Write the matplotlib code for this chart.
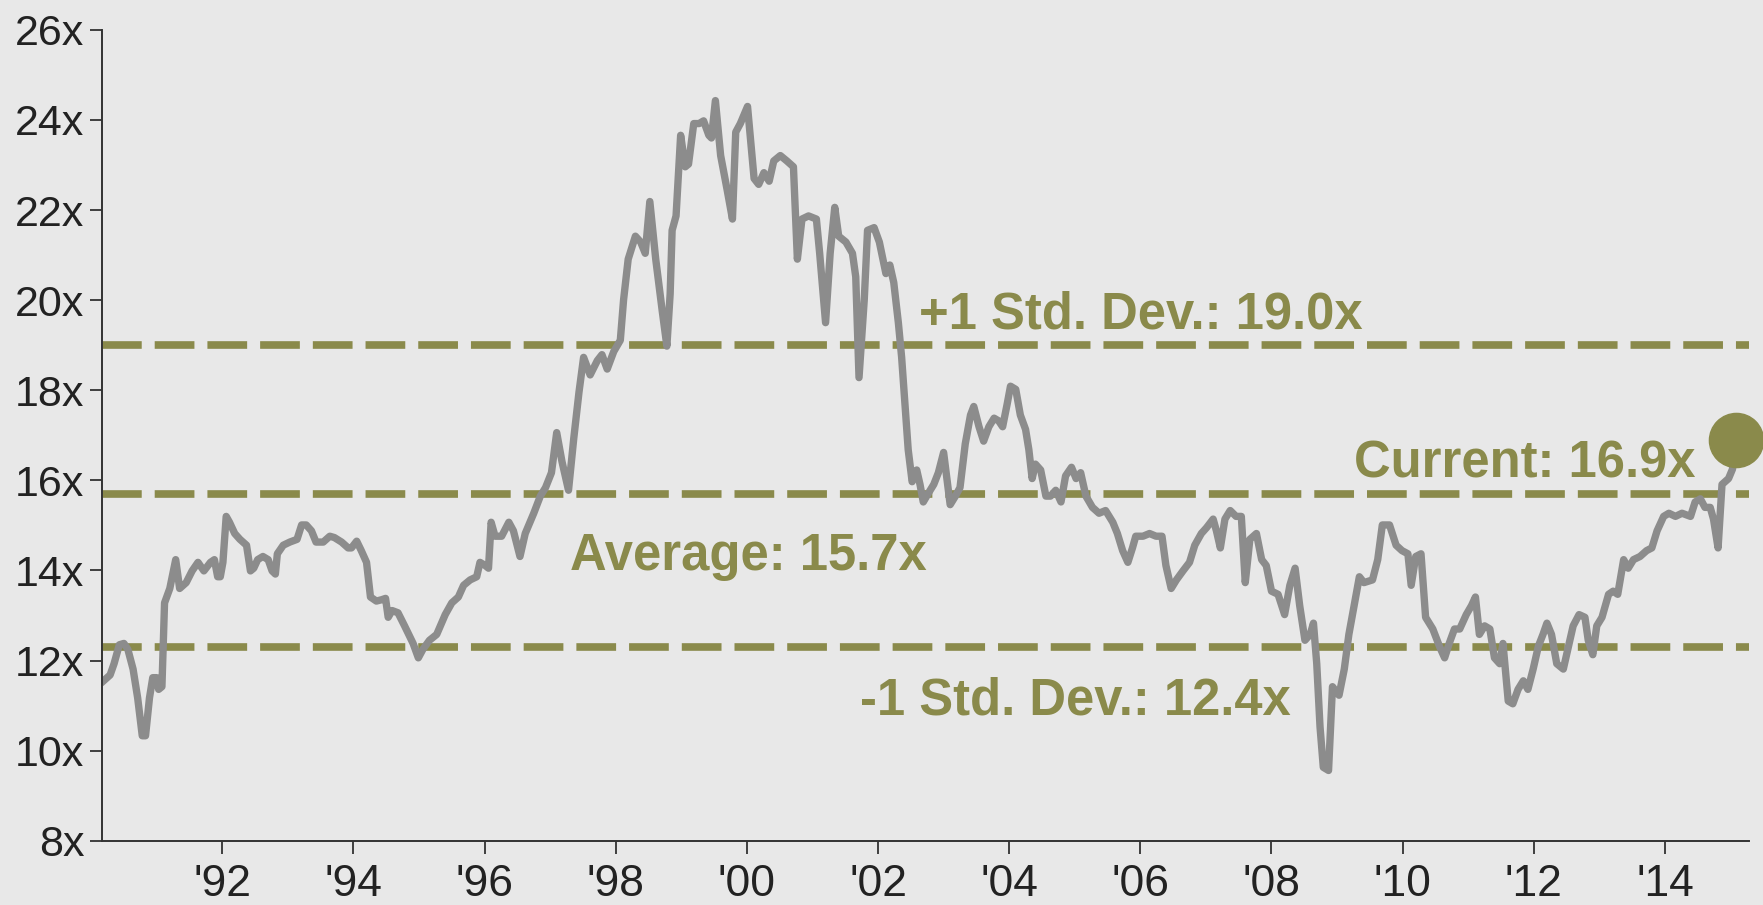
import matplotlib
matplotlib.use('Agg')
import matplotlib.pyplot as plt

# forward P/E (decimal years)
years = [1990.19, 1990.29, 1990.35, 1990.43, 1990.50, 1990.56, 1990.64, 1990.71, 1990.78, 1990.83,
         1990.89, 1990.94, 1991.00, 1991.03, 1991.08, 1991.12, 1991.20, 1991.29, 1991.35, 1991.45,
         1991.54, 1991.63, 1991.72, 1991.82, 1991.88, 1991.93, 1991.97, 1992.01, 1992.06, 1992.11,
         1992.19, 1992.27, 1992.37, 1992.43, 1992.48, 1992.54, 1992.62, 1992.70, 1992.76, 1992.81,
         1992.84, 1992.93, 1993.03, 1993.14, 1993.21, 1993.28, 1993.36, 1993.43, 1993.54, 1993.64,
         1993.71, 1993.82, 1993.92, 1993.97, 1994.05, 1994.12, 1994.20, 1994.26, 1994.35, 1994.43,
         1994.49, 1994.53, 1994.59, 1994.68, 1994.78, 1994.91, 1994.99, 1995.06, 1995.16, 1995.27,
         1995.40, 1995.50, 1995.60, 1995.68, 1995.78, 1995.88, 1995.93, 1996.01, 1996.06, 1996.10,
         1996.16, 1996.26, 1996.37, 1996.44, 1996.54, 1996.62, 1996.75, 1996.85, 1996.93, 1997.02,
         1997.10, 1997.18, 1997.28, 1997.36, 1997.44, 1997.51, 1997.61, 1997.72, 1997.79, 1997.87,
         1997.97, 1998.07, 1998.12, 1998.19, 1998.30, 1998.38, 1998.45, 1998.52, 1998.61, 1998.71,
         1998.78, 1998.83, 1998.86, 1998.92, 1998.99, 1999.06, 1999.11, 1999.19, 1999.27, 1999.34,
         1999.42, 1999.46, 1999.52, 1999.60, 1999.70, 1999.78, 1999.83, 1999.90, 2000.01, 2000.11,
         2000.18, 2000.26, 2000.34, 2000.41, 2000.51, 2000.61, 2000.71, 2000.77, 2000.84, 2000.94,
         2001.06, 2001.11, 2001.20, 2001.27, 2001.34, 2001.40, 2001.51, 2001.61, 2001.66, 2001.71,
         2001.79, 2001.84, 2001.94, 2002.02, 2002.12, 2002.18, 2002.24, 2002.31, 2002.36, 2002.41,
         2002.46, 2002.52, 2002.59, 2002.64, 2002.69, 2002.77, 2002.85, 2002.92, 2003.00, 2003.05,
         2003.10, 2003.18, 2003.25, 2003.33, 2003.41, 2003.46, 2003.54, 2003.61, 2003.69, 2003.77,
         2003.84, 2003.90, 2003.97, 2004.02, 2004.10, 2004.17, 2004.25, 2004.30, 2004.35, 2004.40,
         2004.48, 2004.56, 2004.63, 2004.71, 2004.79, 2004.86, 2004.95, 2005.02, 2005.09, 2005.17,
         2005.27, 2005.37, 2005.47, 2005.58, 2005.65, 2005.73, 2005.81, 2005.88, 2005.93, 2006.04,
         2006.14, 2006.24, 2006.33, 2006.39, 2006.47, 2006.55, 2006.65, 2006.75, 2006.83, 2006.93,
         2007.01, 2007.11, 2007.16, 2007.22, 2007.29, 2007.37, 2007.46, 2007.54, 2007.60, 2007.67,
         2007.77, 2007.85, 2007.92, 2008.00, 2008.10, 2008.20, 2008.28, 2008.36, 2008.43, 2008.51,
         2008.59, 2008.64, 2008.69, 2008.74, 2008.79, 2008.87, 2008.93, 2009.03, 2009.11, 2009.18,
         2009.26, 2009.34, 2009.41, 2009.54, 2009.62, 2009.69, 2009.80, 2009.90, 2009.99, 2010.08,
         2010.13, 2010.20, 2010.28, 2010.35, 2010.46, 2010.56, 2010.64, 2010.71, 2010.79, 2010.87,
         2010.97, 2011.05, 2011.11, 2011.17, 2011.25, 2011.33, 2011.40, 2011.48, 2011.53, 2011.61,
         2011.68, 2011.76, 2011.84, 2011.91, 2011.99, 2012.07, 2012.14, 2012.20, 2012.27, 2012.35,
         2012.45, 2012.53, 2012.60, 2012.69, 2012.78, 2012.83, 2012.90, 2012.96, 2013.04, 2013.14,
         2013.21, 2013.28, 2013.37, 2013.44, 2013.52, 2013.62, 2013.72, 2013.80, 2013.88, 2013.98,
         2014.06, 2014.16, 2014.26, 2014.39, 2014.46, 2014.54, 2014.61, 2014.69, 2014.74, 2014.81,
         2014.87, 2014.97, 2015.03, 2015.08]
pe = [11.55, 11.68, 11.93, 12.35, 12.38, 12.25, 11.81, 11.17, 10.33, 10.33,
      11.17, 11.62, 11.62, 11.36, 11.42, 13.28, 13.60, 14.24, 13.60, 13.73,
      13.99, 14.18, 13.99, 14.18, 14.24, 13.86, 13.86, 14.18, 15.20, 15.07,
      14.82, 14.69, 14.56, 13.99, 14.05, 14.24, 14.31, 14.24, 13.99, 13.92,
      14.37, 14.56, 14.63, 14.69, 15.01, 15.01, 14.88, 14.63, 14.63, 14.76,
      14.73, 14.63, 14.50, 14.50, 14.65, 14.44, 14.18, 13.41, 13.32, 13.35,
      13.38, 12.96, 13.11, 13.06, 12.77, 12.38, 12.06, 12.25, 12.45, 12.58,
      13.02, 13.28, 13.41, 13.67, 13.79, 13.86, 14.18, 14.11, 14.05, 15.07,
      14.76, 14.76, 15.07, 14.88, 14.31, 14.82, 15.27, 15.65, 15.84, 16.17,
      17.06, 16.42, 15.78, 16.93, 17.96, 18.73, 18.34, 18.66, 18.79, 18.47,
      18.86, 19.11, 20.01, 20.91, 21.42, 21.29, 21.04, 22.19, 20.91, 19.75,
      18.98, 20.14, 21.55, 21.87, 23.66, 22.96, 23.02, 23.92, 23.92, 23.98,
      23.66, 23.60, 24.43, 23.21, 22.44, 21.80, 23.73, 23.92, 24.30, 22.70,
      22.57, 22.83, 22.64, 23.09, 23.21, 23.09, 22.96, 20.91, 21.80, 21.87,
      21.80, 21.04, 19.50, 21.04, 22.06, 21.42, 21.29, 21.04, 20.52, 18.28,
      20.01, 21.55, 21.61, 21.29, 20.59, 20.78, 20.39, 19.50, 18.73, 17.70,
      16.68, 15.97, 16.23, 15.91, 15.52, 15.72, 15.91, 16.17, 16.62, 16.04,
      15.46, 15.65, 15.84, 16.81, 17.45, 17.64, 17.19, 16.87, 17.19, 17.38,
      17.32, 17.19, 17.70, 18.09, 18.02, 17.45, 17.13, 16.68, 16.04, 16.36,
      16.23, 15.65, 15.65, 15.78, 15.52, 16.10, 16.29, 16.04, 16.17, 15.65,
      15.40, 15.27, 15.33, 15.07, 14.82, 14.44, 14.18, 14.50, 14.76, 14.76,
      14.82, 14.76, 14.76, 14.11, 13.60, 13.79, 13.99, 14.18, 14.56, 14.82,
      14.95, 15.14, 14.88, 14.50, 15.14, 15.33, 15.20, 15.20, 13.73, 14.69,
      14.82, 14.24, 14.11, 13.54, 13.47, 13.02, 13.67, 14.05, 13.22, 12.45,
      12.58, 12.83, 11.93, 10.53, 9.63, 9.56, 11.42, 11.23, 11.81, 12.58,
      13.22, 13.86, 13.73, 13.79, 14.24, 15.01, 15.01, 14.56, 14.44, 14.37,
      13.67, 14.31, 14.37, 12.96, 12.70, 12.32, 12.06, 12.38, 12.70, 12.70,
      13.02, 13.22, 13.41, 12.58, 12.77, 12.70, 12.06, 11.93, 12.38, 11.10,
      11.04, 11.36, 11.55, 11.36, 11.81, 12.32, 12.58, 12.83, 12.58, 11.93,
      11.81, 12.32, 12.77, 13.02, 12.96, 12.45, 12.13, 12.77, 12.96, 13.47,
      13.54, 13.47, 14.24, 14.05, 14.24, 14.31, 14.44, 14.50, 14.88, 15.20,
      15.27, 15.20, 15.27, 15.20, 15.52, 15.59, 15.40, 15.40, 15.14, 14.50,
      15.91, 16.04, 16.25, 16.90]

ref_levels = [19.0, 15.7, 12.3]
ref_labels = ['+1 Std. Dev.: 19.0x', 'Average: 15.7x', '-1 Std. Dev.: 12.4x']
current_label = 'Current: 16.9x'

yticks = [8, 10, 12, 14, 16, 18, 20, 22, 24, 26]
xticks = [1992, 1994, 1996, 1998, 2000, 2002, 2004, 2006, 2008, 2010, 2012, 2014]
xlabels = ["'92", "'94", "'96", "'98", "'00", "'02", "'04", "'06", "'08", "'10", "'12", "'14"]

bg = '#e8e8e8'
olive = '#8a8a4b'
grey = '#8c8c8c'

plt.rcParams['font.family'] = ['Liberation Sans', 'DejaVu Sans']

fig = plt.figure(figsize=(17.63, 9.05), dpi=100, facecolor=bg)
ax = fig.add_axes([0.058, 0.071, 0.934, 0.896], facecolor=bg)

for lv in ref_levels:
    ax.axhline(lv, color=olive, lw=5.5, ls=(0, (5.2, 1.7)), zorder=1)

ax.plot(years, pe, color=grey, lw=5.3, solid_joinstyle='round', zorder=2)
ax.plot(years[-1], pe[-1], 'o', color=olive, ms=39, zorder=3, clip_on=False)

tkw = dict(color=olive, fontsize=36.5, fontweight='bold')
ax.text(2002.63, 19.38, ref_labels[0], ha='left', va='baseline', **tkw)
ax.text(1997.30, 14.02, ref_labels[1], ha='left', va='baseline', **tkw)
ax.text(2001.73, 10.80, ref_labels[2], ha='left', va='baseline', **tkw)
ax.text(2014.47, 16.06, current_label, ha='right', va='baseline', **tkw)

ax.set_xlim(1990.17, 2015.28)
ax.set_ylim(8, 26)
ax.set_yticks(yticks)
ax.set_yticklabels([f'{t}x' for t in yticks])
ax.set_xticks(xticks)
ax.set_xticklabels(xlabels)
ax.tick_params(axis='y', labelsize=31, colors='#222222', length=9, width=1.2, pad=4)
ax.tick_params(axis='x', labelsize=32, colors='#222222', length=9, width=1.2, pad=8)
for s in ['top', 'right']:
    ax.spines[s].set_visible(False)
for s in ['left', 'bottom']:
    ax.spines[s].set_color('#333333')
    ax.spines[s].set_linewidth(1.4)

fig.savefig('out.png', dpi=100, facecolor=bg)
